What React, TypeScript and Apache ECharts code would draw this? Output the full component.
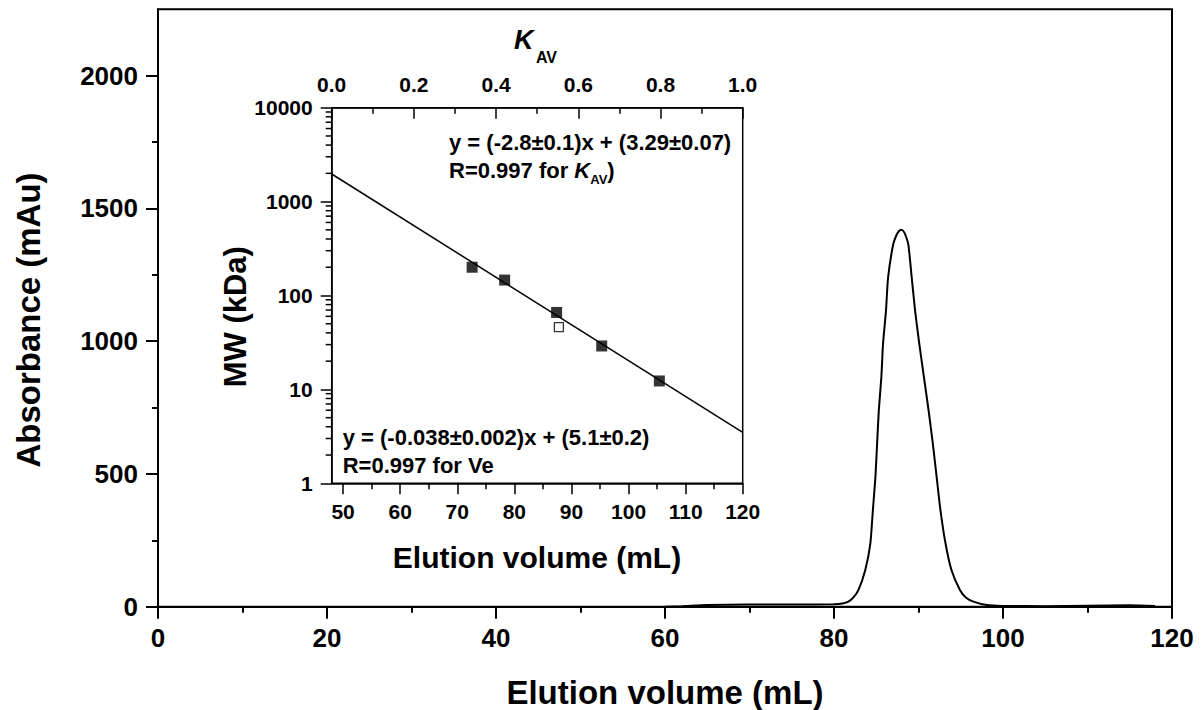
import React, { useEffect, useRef } from "react";
import * as echarts from "echarts";

// Main chromatogram (Elution volume mL vs Absorbance mAu)
const elutionVolume = [60, 62, 65, 70, 75, 80, 81, 81.7, 82.3, 82.9, 83.7, 84.3, 84.6, 84.9, 85.1, 85.3, 85.6, 85.8, 86.15, 86.4, 87.0, 87.4, 87.7, 87.95, 88.2, 88.45, 88.8, 89.2, 89.6, 90.1, 90.65, 91.2, 91.7, 92.15, 92.6, 93.2, 93.9, 94.9, 95.6, 96.5, 98.1, 100, 105, 110, 115, 118];
const absorbance = [0, 2, 6, 8, 8, 9, 12, 19, 35, 63, 138, 238, 363, 488, 613, 738, 863, 989, 1114, 1239, 1364, 1400, 1415, 1420, 1415, 1400, 1364, 1239, 1114, 989, 863, 738, 613, 488, 363, 238, 138, 63, 35, 19, 6, 3, 2, 4, 5, 3];

// Inset calibration: standards (filled) and sample (open)
const standardsVe = [72.6, 78.3, 87.4, 95.3, 105.4];
const standardsMW = [200, 146, 66, 29, 12.3];
const sampleVe = [87.8];
const sampleMW = [46];

// Fitted calibration line end points (Ve, MW)
const fitVe = [48, 120];
const fitMW = [1968, 3.49];

// Axis tick values
const mainYTicks = [0, 500, 1000, 1500, 2000];
const insetLogMinorTicks = [2, 3, 4, 5, 6, 7, 8, 9, 20, 30, 40, 50, 60, 70, 80, 90, 200, 300, 400, 500, 600, 700, 800, 900, 2000, 3000, 4000, 5000, 6000, 7000, 8000, 9000];

const FONT = "'Liberation Sans', Arial, Helvetica, sans-serif";

export default function App() {
  const ref = useRef<HTMLDivElement>(null);

  useEffect(() => {
    document.body.style.margin = "0";
    if (!ref.current) return;
    const chart = echarts.init(ref.current, null, { renderer: "svg" });

    // layout
    const mL = 158, mT = 9.3, mR = 1172, mB = 606.7;
    const mainMax = 2250;
    const y2000Top = mB - (2000 / mainMax) * (mB - mT);
    const iL = 331.7, iT = 107.7, iR = 742.7, iB = 483.3;
    const iMin = 48, iMax = 120;
    const i50Left = iL + ((50 - iMin) / (iMax - iMin)) * (iR - iL);

    const plain = (v: number) => String(v);
    const tickLabel = (size: number) => ({
      color: "#000",
      fontFamily: FONT,
      fontWeight: "bold" as const,
      fontSize: size,
    });

    const option: any = {
      animation: false,
      backgroundColor: "#fff",
      grid: [
        { left: mL, top: mT, width: mR - mL, height: mB - mT, show: true, borderColor: "#000", borderWidth: 2, containLabel: false, outerBoundsMode: "none" },
        { left: mL, top: y2000Top, width: mR - mL, height: mB - y2000Top, show: false, containLabel: false, outerBoundsMode: "none" },
        { left: iL, top: iT, width: iR - iL, height: iB - iT, show: true, borderColor: "#000", borderWidth: 1.5, backgroundColor: "#fff", containLabel: false, outerBoundsMode: "none" },
        { left: i50Left, top: iT, width: iR - i50Left, height: iB - iT, show: false, containLabel: false, outerBoundsMode: "none" },
      ],
      xAxis: [
        {
          gridIndex: 0, type: "value", min: 0, max: 120, interval: 20,
          axisLine: { show: true, lineStyle: { color: "#000", width: 2 } },
          axisTick: { show: true, length: 12, lineStyle: { color: "#000", width: 2 } },
          minorTick: { show: true, splitNumber: 2, length: 6, lineStyle: { color: "#000", width: 2 } },
          axisLabel: { ...tickLabel(26), margin: 18, formatter: plain },
          splitLine: { show: false }, minorSplitLine: { show: false },
        },
        { gridIndex: 1, type: "value", min: 0, max: 120, show: false, splitLine: { show: false } },
        {
          gridIndex: 2, type: "value", min: iMin, max: iMax, position: "bottom",
          axisLine: { show: true, lineStyle: { color: "#000", width: 1.5 } },
          axisTick: { show: false }, axisLabel: { show: false },
          splitLine: { show: false },
        },
        {
          gridIndex: 2, type: "value", min: 0, max: 1, interval: 0.2, position: "top",
          axisLine: { show: true, lineStyle: { color: "#000", width: 1.5 } },
          axisTick: { show: true, inside: true, length: 11, lineStyle: { color: "#000", width: 1.5 } },
          minorTick: { show: true, splitNumber: 2, length: 6, lineStyle: { color: "#000", width: 1.5 } },
          axisLabel: { ...tickLabel(21), margin: 13, formatter: (v: number) => v.toFixed(1) },
          splitLine: { show: false }, minorSplitLine: { show: false },
        },
        {
          gridIndex: 3, type: "value", min: 50, max: 120, interval: 10, position: "bottom",
          axisLine: { show: false },
          axisTick: { show: true, length: 11, lineStyle: { color: "#000", width: 1.5 } },
          minorTick: { show: true, splitNumber: 2, length: 6, lineStyle: { color: "#000", width: 1.5 } },
          axisLabel: { ...tickLabel(21), margin: 18, formatter: plain },
          splitLine: { show: false }, minorSplitLine: { show: false },
        },
      ],
      yAxis: [
        {
          gridIndex: 0, type: "value", min: 0, max: mainMax,
          axisLine: { show: true, lineStyle: { color: "#000", width: 2 } },
          axisTick: { show: false }, axisLabel: { show: false },
          splitLine: { show: false },
        },
        {
          gridIndex: 1, type: "value", min: mainYTicks[0], max: mainYTicks[mainYTicks.length - 1], interval: 500,
          axisLine: { show: false },
          axisTick: { show: true, length: 12, lineStyle: { color: "#000", width: 2 } },
          minorTick: { show: true, splitNumber: 2, length: 6, lineStyle: { color: "#000", width: 2 } },
          axisLabel: { ...tickLabel(26), margin: 20, formatter: plain },
          splitLine: { show: false }, minorSplitLine: { show: false },
        },
        {
          gridIndex: 2, type: "log", logBase: 10, min: 1, max: 10000,
          axisLine: { show: true, lineStyle: { color: "#000", width: 1.5 } },
          axisTick: { show: true, length: 11, lineStyle: { color: "#000", width: 1.5 } },
          axisLabel: { ...tickLabel(21), margin: 19, formatter: (v: number) => String(Math.round(v)) },
          splitLine: { show: false }, minorSplitLine: { show: false },
        },
        { gridIndex: 3, type: "value", show: false, splitLine: { show: false } },
      ],
      series: [
        {
          type: "line", xAxisIndex: 0, yAxisIndex: 0,
          data: elutionVolume.map((v, i) => [v, absorbance[i]]),
          showSymbol: false, smooth: 0.2,
          lineStyle: { color: "#000", width: 2 },
          z: 3,
        },
        {
          type: "line", xAxisIndex: 2, yAxisIndex: 2,
          data: fitVe.map((v, i) => [v, fitMW[i]]),
          showSymbol: false,
          lineStyle: { color: "#000", width: 1.5 },
          z: 5,
        },
        {
          type: "scatter", xAxisIndex: 2, yAxisIndex: 2,
          data: standardsVe.map((v, i) => [v, standardsMW[i]]),
          symbol: "rect", symbolSize: 11,
          itemStyle: { color: "#000" },
          z: 6,
        },
        {
          type: "scatter", xAxisIndex: 2, yAxisIndex: 2,
          data: sampleVe.map((v, i) => [v, sampleMW[i]]),
          symbol: "rect", symbolSize: 9,
          itemStyle: { color: "#fff", borderColor: "#000", borderWidth: 1.3 },
          z: 6,
        },
        {
          type: "custom", xAxisIndex: 2, yAxisIndex: 2, clip: false, silent: true,
          data: insetLogMinorTicks.map((v) => [iMin, v]),
          renderItem: (params: any, api: any) => {
            const p = api.coord([api.value(0), api.value(1)]);
            return {
              type: "line",
              shape: { x1: p[0] - 6, y1: p[1], x2: p[0], y2: p[1] },
              style: { stroke: "#000", lineWidth: 1.5 },
            };
          },
          z: 6,
        },
      ],
      graphic: [
        {
          type: "text", x: 28, y: 320, rotation: Math.PI / 2,
          style: { text: "Absorbance (mAu)", fill: "#000", font: `bold 33px ${FONT}`, align: "center", verticalAlign: "middle" },
        },
        {
          type: "text", x: 665, y: 692,
          style: { text: "Elution volume (mL)", fill: "#000", font: `bold 33px ${FONT}`, align: "center", verticalAlign: "middle" },
        },
        {
          type: "text", x: 235, y: 316.7, rotation: Math.PI / 2,
          style: { text: "MW (kDa)", fill: "#000", font: `bold 31px ${FONT}`, align: "center", verticalAlign: "middle" },
        },
        {
          type: "text", x: 537, y: 557.6,
          style: { text: "Elution volume (mL)", fill: "#000", font: `bold 30px ${FONT}`, align: "center", verticalAlign: "middle" },
        },
        {
          type: "text", x: 514, y: 40,
          style: { text: "K", fill: "#000", font: `italic bold 27px ${FONT}`, align: "left", verticalAlign: "middle" },
        },
        {
          type: "text", x: 536, y: 57.5,
          style: { text: "AV", fill: "#000", font: `bold 16px ${FONT}`, align: "left", verticalAlign: "middle" },
        },
        {
          type: "text", x: 449, y: 142,
          style: { text: "y = (-2.8±0.1)x + (3.29±0.07)", fill: "#000", font: `bold 22px ${FONT}`, align: "left", verticalAlign: "middle" },
        },
        {
          type: "text", x: 449, y: 170,
          style: {
            text: "{a|R=0.997 for }{k|K}{s|AV}{a|)}",
            align: "left", verticalAlign: "middle",
            rich: {
              a: { fill: "#000", color: "#000", fontFamily: FONT, fontWeight: "bold", fontSize: 22 },
              k: { fill: "#000", color: "#000", fontFamily: FONT, fontWeight: "bold", fontStyle: "italic", fontSize: 22 },
              s: { fill: "#000", color: "#000", fontFamily: FONT, fontWeight: "bold", fontSize: 13, padding: [18, 0, 0, 0] },
            },
          },
        },
        {
          type: "text", x: 342.7, y: 437,
          style: { text: "y = (-0.038±0.002)x + (5.1±0.2)", fill: "#000", font: `bold 22px ${FONT}`, align: "left", verticalAlign: "middle" },
        },
        {
          type: "text", x: 342.7, y: 465.7,
          style: { text: "R=0.997 for Ve", fill: "#000", font: `bold 22px ${FONT}`, align: "left", verticalAlign: "middle" },
        },
      ],
    };

    chart.setOption(option);
    return () => {
      chart.dispose();
    };
  }, []);

  return <div ref={ref} style={{ width: 1201, height: 710 }} />;
}
